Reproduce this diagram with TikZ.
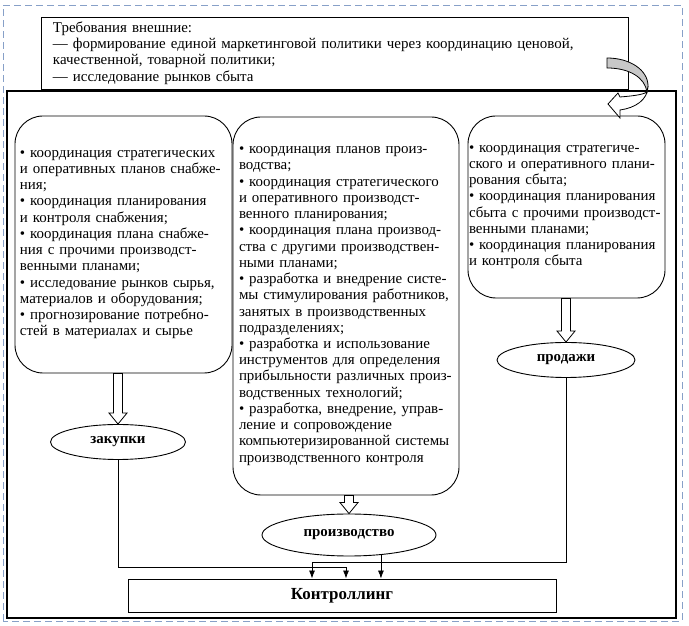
\documentclass[tikz,border=0pt]{standalone}
\usepackage{fontspec}
\setmainfont{Liberation Serif}
\usetikzlibrary{calc,shapes.geometric,arrows.meta}
\definecolor{frameblue}{RGB}{135,160,200}
\definecolor{bandgray}{RGB}{200,200,200}
\tikzset{x=1bp, y=1bp,
  body text/.style={font=\fontsize{15}{16.3}\selectfont, align=left},
  req box/.style={draw, line width=0.9bp, body text, inner xsep=12bp,
    text width=563bp, minimum height=72bp},
  duty box/.style={draw, line width=0.9bp, rounded corners=28bp, body text},
  unit/.style={ellipse, draw, line width=0.9bp, inner sep=0pt,
    font=\fontsize{15}{17}\selectfont\bfseries},
  ctrl box/.style={draw, line width=0.9bp, minimum width=428bp,
    minimum height=33bp, font=\fontsize{17}{19}\selectfont\bfseries},
  hollow arrow/.style={draw, fill=white, line width=0.8bp},
  link/.style={line width=0.8bp, -{Latex[length=8bp,width=6bp]}}
}
% block arrow pointing down from #1 to #2
\def\HollowArrow#1#2{%
  \draw[hollow arrow] ($(#1)+(-4.5,0)$) -- ($(#2)+(-4.5,11)$) -- ($(#2)+(-9,11)$)
    -- (#2) -- ($(#2)+(9,11)$) -- ($(#2)+(4.5,11)$) -- ($(#1)+(4.5,0)$) -- cycle;
}
\begin{document}
\begin{tikzpicture}
\useasboundingbox (0,0) rectangle (689,626);
\draw[frameblue, line width=0.9bp, dash pattern=on 7bp off 4bp] (3,5) rectangle (682,621);
\draw[line width=1.2bp] (7,8) rectangle (676,535);

\node[req box, fill=white] (req) at (334.5,573) {Требования внешние:\\
— формирование единой маркетинговой политики через координацию ценовой,\\
качественной, товарной политики;\\
— исследование рынков сбыта};

\node[duty box, minimum width=217bp, minimum height=257bp, inner xsep=5bp,
  text width=207bp] (supply) at (123.5,381.5) {• координация стратегических\\
и оперативных планов снабже-\\
ния;\\
• координация планирования\\
и контроля снабжения;\\
• координация плана снабже-\\
ния с прочими производст-\\
венными планами;\\
• исследование рынков сырья,\\
материалов и оборудования;\\
• прогнозирование потребно-\\
стей в материалах и сырье};

\node[duty box, minimum width=226bp, minimum height=378bp, inner xsep=6bp,
  text width=214bp] (make) at (346,320) {• координация планов произ-\\
водства;\\
• координация стратегического\\
и оперативного производст-\\
венного планирования;\\
• координация плана производ-\\
ства с другими производствен-\\
ными планами;\\
• разработка и внедрение систе-\\
мы стимулирования работников,\\
занятых в производственных\\
подразделениях;\\
• разработка и использование\\
инструментов для определения\\
прибыльности различных произ-\\
водственных технологий;\\
• разработка, внедрение, управ-\\
ление и сопровождение\\
компьютеризированной системы\\
производственного контроля};

\node[duty box, minimum width=197bp, minimum height=182bp, inner xsep=1bp,
  text width=195bp] (sell) at (566.5,419) {• координация стратегиче-\\
ского и оперативного плани-\\
рования сбыта;\\
• координация планирования\\
сбыта с~прочими производст-\\
венными планами;\\
• координация планирования\\
и контроля сбыта};

\node[unit, minimum width=135bp, minimum height=35bp] (zak) at (118,184) {закупки};
\node[unit, minimum width=174bp, minimum height=42bp] (prod) at (349,91) {производство};
\node[unit, minimum width=138bp, minimum height=35bp] (sales) at (566,266) {продажи};
\node[ctrl box] (ctrl) at (342,30.5) {Контроллинг};

\coordinate (zakin) at (zak |- supply.south);
\coordinate (prodin) at (prod |- make.south);
\coordinate (salesin) at (sales |- sell.south);
\HollowArrow{zakin}{zak.north}
\HollowArrow{prodin}{prod.north}
\HollowArrow{salesin}{sales.north}

\draw[link] (zak.south) -- ++(0,-107.5) -| ([xshift=4bp]ctrl.north);
\draw[link] (sales.south) -- ++(0,-184.5) -| ([xshift=-30bp]ctrl.north);
\draw[link] (prod.-32.6) -- (prod.-32.6 |- ctrl.north);

% curved arrow from the requirements into sales
\draw[line width=0.8bp, fill=white] (648,540) .. controls (648,526) and (635,518) .. (620,516)
  -- (620,508) -- (608,522) -- (618,533) -- (620,529)
  .. controls (632,530) and (642,531) .. (647,534) -- cycle;
\draw[line width=0.8bp, fill=bandgray] (607,568) .. controls (630,568) and (648,556) .. (648,540)
  -- (647,534) .. controls (645,548) and (630,558) .. (607,558) -- cycle;
\end{tikzpicture}
\end{document}
